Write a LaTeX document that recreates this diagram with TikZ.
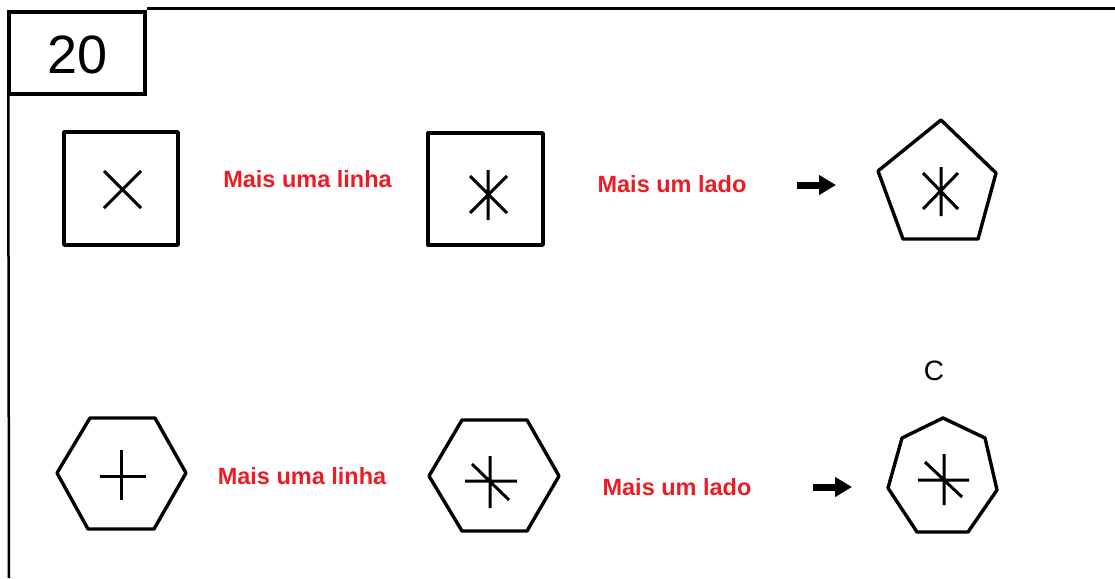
\documentclass[tikz,border=0pt]{standalone}
\usepackage{fontspec}
\setmainfont{Liberation Sans}
\usetikzlibrary{arrows.meta}
\definecolor{labred}{RGB}{236,28,36}
\tikzset{
  shape line/.style={line width=3.4pt, line join=round},
  mark line/.style={line width=3pt},
  redlabel/.style={text=labred, font=\bfseries\fontsize{23.5}{26}\selectfont, inner sep=0pt, anchor=base},
  fatarrow/.style={line width=7pt, -{Triangle[length=17pt,width=19pt]}},
}
\begin{document}
\begin{tikzpicture}[x=1pt,y=-1pt]
\useasboundingbox (0,0) rectangle (1115,578);
% frame
\node[draw, line width=3.5pt, minimum width=136pt, minimum height=82pt, inner sep=0pt] (numbox) at (77,53) {};
\node[inner sep=0pt, anchor=base, font=\fontsize{54}{56}\selectfont] (num) at (77.5,73) {20};
\coordinate (topend) at (1115,8.5);
\coordinate (leftend) at (9,578);
\draw[line width=2.2pt] (numbox.north east |- topend) -- (topend);
\draw[line width=2.5pt] (numbox.south west) ++(1pt,0) -- (leftend);

% row 1
\draw[shape line] (64,132) rectangle (178,245);
\draw[mark line] (104,171) -- (141,208) (141,171) -- (104,208);

\node[redlabel] (t1) at (307.5,187) {Mais uma linha};

\draw[shape line] (428,133) rectangle (543,245);
\draw[mark line] (488,170) -- (488,220) (470,176) -- (507,213) (507,176) -- (470,213);

\node[redlabel] (t2) at (672,192) {Mais um lado};

\coordinate (a1s) at (797,185);
\coordinate (a1e) at (836,185);
\draw[fatarrow] (a1s) -- (a1e);

\draw[shape line] (941,120) -- (996,173) -- (978,239) -- (903,239) -- (878,171) -- cycle;
\draw[mark line] (941,167) -- (941,216) (923,173) -- (958,209) (958,173) -- (923,209);

% row 2
\node[inner sep=0pt, anchor=base, font=\fontsize{28}{30}\selectfont] (c) at (934,380) {C};

\draw[shape line] (90,418) -- (155,418) -- (186,473) -- (154,529) -- (88,529) -- (57,473) -- cycle;
\draw[mark line] (100,476) -- (146,476) (121,450) -- (121,500);

\node[redlabel] (t3) at (302,484) {Mais uma linha};

\draw[shape line] (462,420) -- (527,420) -- (559,476) -- (527,531) -- (462,531) -- (429,476) -- cycle;
\draw[mark line] (465,481) -- (517,481) (490,456) -- (490,508) (472,464) -- (509,500);

\node[redlabel] (t4) at (677,495) {Mais um lado};

\coordinate (a2s) at (813,487);
\coordinate (a2e) at (852,487);
\draw[fatarrow] (a2s) -- (a2e);

\draw[shape line] (943,418) -- (985,438) -- (997,490) -- (968,532) -- (917,532) -- (888,488) -- (902,438) -- cycle;
\draw[mark line] (918,480) -- (969,480) (944,454) -- (944,505) (925,462) -- (962,497);
\end{tikzpicture}
\end{document}
